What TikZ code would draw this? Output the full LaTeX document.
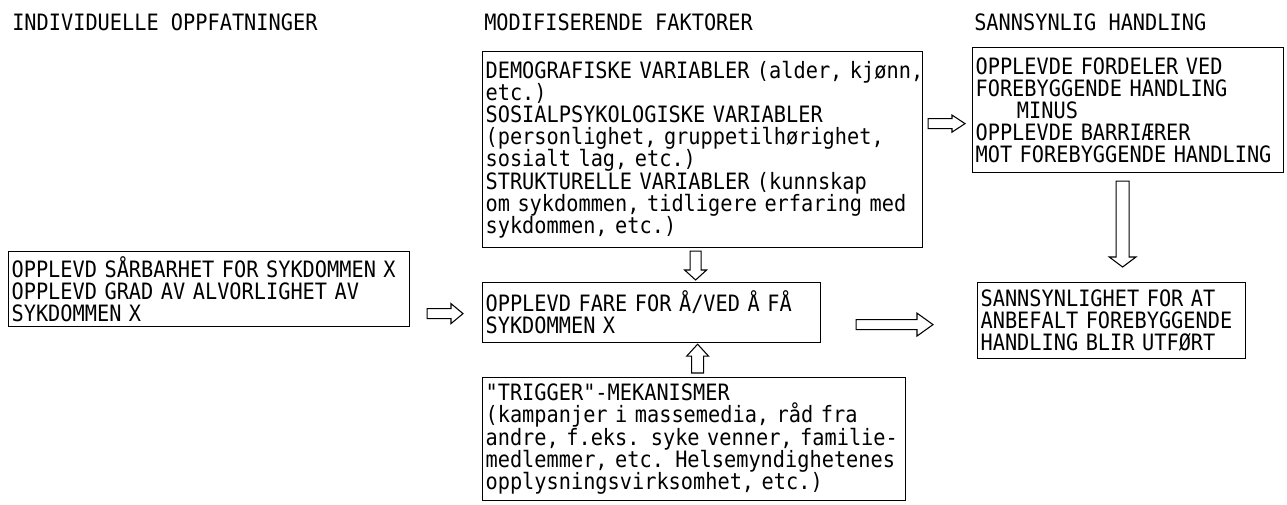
\documentclass[tikz,border=0pt]{standalone}
\usepackage{fontspec}
\newfontfamily\boxfont[FakeStretch=0.9]{DejaVu Sans Mono}
\usetikzlibrary{calc}
% horizontal hollow block arrow: start, tip, shaft half-width, head half-width, head length
\newcommand\HArrow[5]{%
  \draw[blockarrow] let \p1=(#1), \p2=(#2) in
    ({\x1},{\y1+#3}) -- ({\x2-#5},{\y1+#3}) -- ({\x2-#5},{\y1+#4}) -- ({\x2},{\y1})
    -- ({\x2-#5},{\y1-#4}) -- ({\x2-#5},{\y1-#3}) -- ({\x1},{\y1-#3}) -- cycle;}
% vertical hollow block arrow: start, tip, shaft half-width, head half-width, signed head length
\newcommand\VArrow[5]{%
  \draw[blockarrow] let \p1=(#1), \p2=(#2) in
    ({\x1-#3},{\y1}) -- ({\x1-#3},{\y2+#5}) -- ({\x1-#4},{\y2+#5}) -- ({\x1},{\y2})
    -- ({\x1+#4},{\y2+#5}) -- ({\x1+#3},{\y2+#5}) -- ({\x1+#3},{\y1}) -- cycle;}
\begin{document}
\begin{tikzpicture}[x=0.75pt,y=-0.75pt,
  txt/.style={font={\boxfont\fontsize{16.9pt}{16.6pt}\selectfont}},
  box/.style={txt, draw, line width=0.9pt, anchor=north west, align=left,
              inner xsep=2.25pt, inner ysep=0pt},
  head/.style={txt, anchor=base west, inner sep=0pt},
  blockarrow/.style={draw, line width=0.8pt, line join=miter}]
\useasboundingbox (0,0) rectangle (1287,504);

% headers
\node[head] (h1) at (12,30) {INDIVIDUELLE OPPFATNINGER};
\node[head] (h2) at (484,30) {MODIFISERENDE FAKTORER};
\node[head] (h3) at (974,30) {SANNSYNLIG HANDLING};

% boxes
\node[box, minimum width=300.75pt, minimum height=56.25pt, text width=296.25pt] (A) at (8,251)
  {\mbox{OPPLEVD SÅRBARHET FOR SYKDOMMEN X}\\\mbox{OPPLEVD GRAD AV ALVORLIGHET AV}\\\mbox{SYKDOMMEN X}};
\node[box, minimum width=253.5pt, minimum height=45pt, text width=249pt] (B) at (482,282)
  {\mbox{OPPLEVD FARE FOR Å/VED Å FÅ}\\\mbox{SYKDOMMEN X}};
\node[box, minimum width=330pt, minimum height=147pt, text width=325.5pt] (M) at (482,51)
  {\mbox{DEMOGRAFISKE VARIABLER (alder, kjønn,}\\\mbox{etc.)}\\
   \mbox{SOSIALPSYKOLOGISKE VARIABLER}\\\mbox{(personlighet, gruppetilhørighet,}\\
   \mbox{sosialt lag, etc.)}\\\mbox{STRUKTURELLE VARIABLER (kunnskap}\\
   \mbox{om sykdommen, tidligere erfaring med}\\\mbox{sykdommen, etc.)}};
\node[box, minimum width=317.25pt, minimum height=92.25pt, text width=312.75pt] (T) at (482,377)
  {\mbox{"TRIGGER"-MEKANISMER}\\\mbox{(kampanjer i massemedia, råd fra}\\
   \mbox{andre, f.eks. syke venner, familie-}\\\mbox{medlemmer, etc. Helsemyndighetenes}\\
   \mbox{opplysningsvirksomhet, etc.)}};
\node[box, minimum width=233.25pt, minimum height=93.75pt, text width=228.75pt] (R) at (972,47)
  {\mbox{OPPLEVDE FORDELER VED}\\\mbox{FOREBYGGENDE HANDLING}\\\mbox{\hspace*{31pt}MINUS}\\
   \mbox{OPPLEVDE BARRIÆRER}\\\mbox{MOT FOREBYGGENDE HANDLING}};
\node[box, minimum width=201pt, minimum height=57pt, text width=196.5pt] (S) at (977,282)
  {\mbox{SANNSYNLIGHET FOR AT}\\\mbox{ANBEFALT FOREBYGGENDE}\\\mbox{HANDLING BLIR UTFØRT}};

% connectors (hollow block arrows)
\HArrow{$(A.east |- B.west)+(17,1)$}{$(B.west)+(-19,1)$}{3.75pt}{7.5pt}{9pt}
\HArrow{$(B.east)+(35,12)$}{$(S.west |- B.east)+(-44,12)$}{3.75pt}{8.6pt}{12pt}
\HArrow{$(M.east |- R.west)+(5,13.5)$}{$(R.west)+(-7,13.5)$}{3.75pt}{6.4pt}{9.75pt}
\VArrow{$(R.south)+(-5.5,8)$}{$(R.south |- S.north)+(-5.5,-15)$}{4.9pt}{10pt}{7.5pt}
\VArrow{$(M.south)+(-7,3)$}{$(M.south |- B.north)+(-7,-2)$}{4.1pt}{8.25pt}{7.5pt}
\VArrow{$(M.south |- T.north)+(-5,-4)$}{$(M.south |- B.south)+(-5,1)$}{4.5pt}{8.25pt}{-9pt}
\end{tikzpicture}
\end{document}
